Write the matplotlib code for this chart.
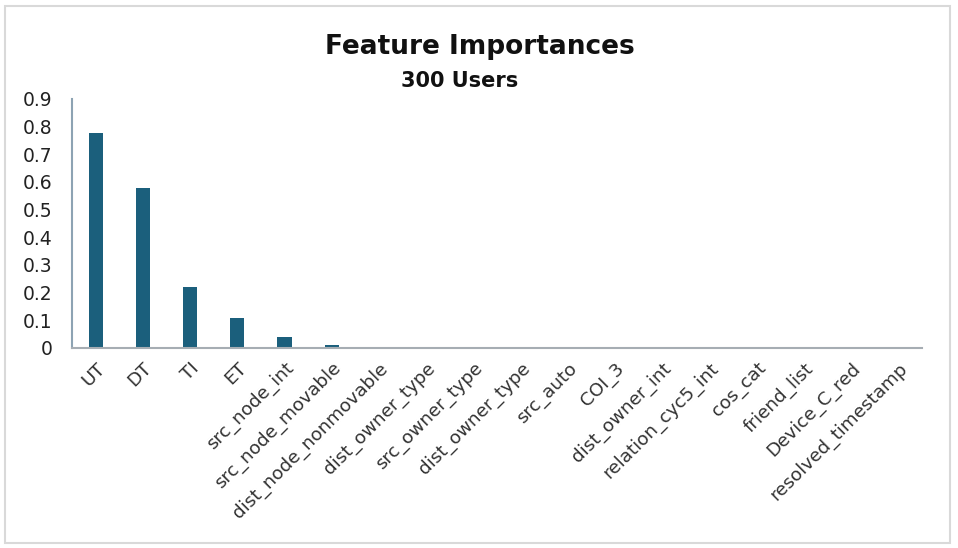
import matplotlib
matplotlib.use('Agg')
import matplotlib.pyplot as plt
from matplotlib.patches import Rectangle

features = ['UT', 'DT', 'TI', 'ET', 'src_node_int', 'src_node_movable',
            'dist_node_nonmovable', 'dist_owner_type', 'src_owner_type',
            'dist_owner_type', 'src_auto', 'COI_3', 'dist_owner_int',
            'relation_cyc5_int', 'cos_cat', 'friend_list', 'Device_C_red',
            'resolved_timestamp']
importances = [0.778, 0.577, 0.219, 0.110, 0.039, 0.010,
               0, 0, 0, 0, 0, 0, 0, 0, 0, 0, 0, 0]
yticks = [0, 0.1, 0.2, 0.3, 0.4, 0.5, 0.6, 0.7, 0.8, 0.9]
ytick_labels = ['0', '0.1', '0.2', '0.3', '0.4', '0.5', '0.6', '0.7', '0.8', '0.9']

plt.rcParams['font.family'] = ['DejaVu Sans']

fig = plt.figure(figsize=(9.58, 5.48), dpi=100)
# light grey frame round the whole chart
fig.patches.append(Rectangle((5 / 958, 5 / 548), 945 / 958, 537 / 548,
                             transform=fig.transFigure, fill=False,
                             edgecolor='#d9d9d9', linewidth=1.5))

ax = fig.add_axes([0.0752, 0.365, 0.887, 0.4545])
x = list(range(len(features)))
ax.bar(x, importances, width=0.3, color='#1b5f7c')

ax.set_xlim(-0.5, len(features) - 0.5)
ax.set_ylim(0, 0.9)
ax.set_yticks(yticks)
ax.set_yticklabels(ytick_labels, fontsize=13.5, color='#222222')
ax.set_xticks(x)
ax.set_xticklabels(features, rotation=45, ha='right', rotation_mode='anchor',
                   fontsize=13.2, color='#333333')
ax.tick_params(axis='both', length=0)
ax.tick_params(axis='y', pad=14)
ax.tick_params(axis='x', pad=8)

for s in ['top', 'right']:
    ax.spines[s].set_visible(False)
ax.spines['left'].set_color('#8da3b3')
ax.spines['left'].set_linewidth(1.5)
ax.spines['bottom'].set_color('#a6adb3')
ax.spines['bottom'].set_linewidth(1.5)

fig.text(0.501, 0.914, 'Feature Importances', ha='center', va='center',
         fontsize=19, fontweight='bold', color='#111111')
fig.text(0.48, 0.852, '300 Users', ha='center', va='center',
         fontsize=15, fontweight='bold', color='#111111')

plt.savefig('out.png', dpi=100)
